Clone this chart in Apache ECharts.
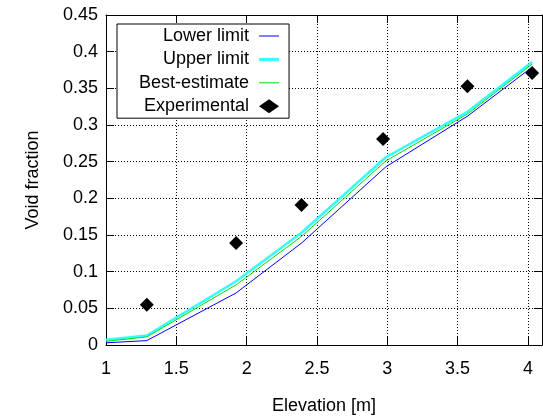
<!DOCTYPE html>
<html>
<head>
<meta charset="utf-8">
<script src="https://cdn.jsdelivr.net/npm/echarts@6/dist/echarts.min.js"></script>
<style>
html,body{margin:0;padding:0;background:#fff;}
#chart{width:543px;height:417px;}
</style>
</head>
<body>
<div id="chart"></div>
<script>
// Data
const elevation = [1.0, 1.29, 1.925, 2.39, 2.99, 3.57, 4.03];
const lowerLimit = [0.003, 0.006, 0.071, 0.139, 0.243, 0.312, 0.379];
const upperLimit = [0.007, 0.013, 0.087, 0.153, 0.256, 0.318, 0.386];
const bestEstimate = [0.005, 0.011, 0.082, 0.148, 0.251, 0.315, 0.383];
const expElevation = [1.29, 1.925, 2.39, 2.97, 3.57, 4.03];
const expVoid = [0.055, 0.139, 0.191, 0.281, 0.353, 0.371];
const seriesNames = ['Lower limit', 'Upper limit', 'Best-estimate', 'Experimental'];
const xTitle = 'Elevation [m]';
const yTitle = 'Void fraction';

const zip = (xs, ys) => xs.map((x, i) => [x, ys[i]]);
const FONT = 'Liberation Sans, Arial, sans-serif';
const chart = echarts.init(document.getElementById('chart'), null, {renderer: 'canvas'});

const tickStyle = {show: true, inside: true, length: 8, lineStyle: {color: '#000', width: 1}};
const lineAx = {show: true, onZero: false, lineStyle: {color: '#000', width: 1}};
const grid = {type: [1, 2], color: '#000', width: 1};
const thinIcon = 'path://M0,0H20V1H0Z';
const thickIcon = 'path://M0,0H20V3H0Z';

chart.setOption({
  animation: false,
  backgroundColor: '#fff',
  grid: {left: 106, right: 1, top: 15, bottom: 72, containLabel: false, outerBoundsMode: 'none'},
  legend: {
    orient: 'vertical',
    left: 117,
    top: 24,
    align: 'right',
    itemWidth: 20,
    itemHeight: 14,
    itemGap: 5.4,
    padding: [3, 10, 3, 22],
    borderColor: '#000',
    borderWidth: 1,
    borderRadius: 0,
    backgroundColor: '#fff',
    symbolKeepAspect: true,
    textStyle: {fontSize: 18, fontFamily: FONT, color: '#000', padding: [0, 5, 0, 0]},
    data: [
      {name: seriesNames[0], icon: thinIcon, itemStyle: {borderWidth: 0}},
      {name: seriesNames[1], icon: thickIcon, itemStyle: {borderWidth: 0}},
      {name: seriesNames[2], icon: thinIcon, itemStyle: {borderWidth: 0}},
      {name: seriesNames[3], icon: 'diamond', itemStyle: {borderWidth: 0, opacity: 1}}
    ]
  },
  xAxis: [{
    type: 'value', min: 1, max: 4.1, interval: 0.5, position: 'bottom',
    name: xTitle, nameLocation: 'middle', nameGap: 52,
    nameTextStyle: {fontSize: 18, fontFamily: FONT, color: '#000'},
    axisLine: lineAx, axisTick: tickStyle,
    axisLabel: {fontSize: 18, fontFamily: FONT, color: '#000', margin: 15,
      formatter: v => (Math.abs(v * 2 - Math.round(v * 2)) < 1e-6 ? String(v) : '')},
    splitLine: {show: true, lineStyle: grid}
  }, {
    type: 'value', min: 1, max: 4.1, interval: 0.5, position: 'top',
    axisLine: lineAx, axisTick: tickStyle, axisLabel: {show: false}, splitLine: {show: false}
  }],
  yAxis: [{
    type: 'value', min: 0, max: 0.45, interval: 0.05, position: 'left',
    name: yTitle, nameLocation: 'middle', nameGap: 64,
    nameTextStyle: {fontSize: 18, fontFamily: FONT, color: '#000'},
    axisLine: lineAx, axisTick: tickStyle,
    axisLabel: {fontSize: 18, fontFamily: FONT, color: '#000', margin: 8},
    splitLine: {show: true, lineStyle: grid}
  }, {
    type: 'value', min: 0, max: 0.45, interval: 0.05, position: 'right',
    axisLine: lineAx, axisTick: tickStyle, axisLabel: {show: false}, splitLine: {show: false}
  }],
  series: [
    {name: seriesNames[0], type: 'line', data: zip(elevation, lowerLimit), symbol: 'none',
     lineStyle: {color: '#0000ff', width: 1}, itemStyle: {color: '#0000ff'}, z: 3},
    {name: seriesNames[1], type: 'line', data: zip(elevation, upperLimit), symbol: 'none',
     lineStyle: {color: '#33ffff', width: 2.5}, itemStyle: {color: '#33ffff'}, z: 3},
    {name: seriesNames[2], type: 'line', data: zip(elevation, bestEstimate), symbol: 'none',
     lineStyle: {color: '#00dd00', width: 1}, itemStyle: {color: '#00dd00'}, z: 4},
    {name: seriesNames[3], type: 'scatter', data: zip(expElevation, expVoid), symbol: 'diamond',
     symbolSize: 14, itemStyle: {color: '#000', opacity: 1}, z: 5}
  ]
});
</script>
</body>
</html>
